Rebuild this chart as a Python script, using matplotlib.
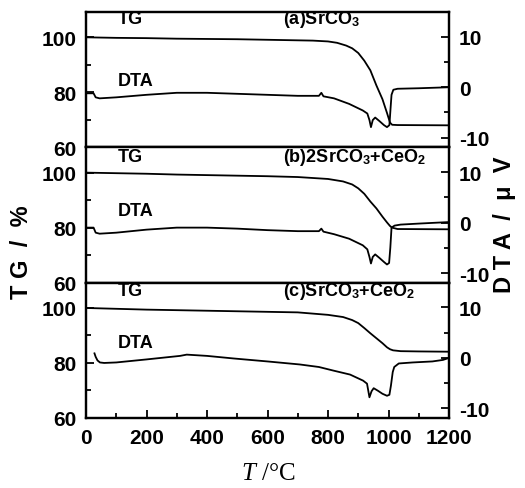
import numpy as np
import matplotlib
matplotlib.use('Agg')
import matplotlib.pyplot as plt
from matplotlib.ticker import MultipleLocator

plt.rcParams['font.family'] = ['Liberation Sans', 'DejaVu Sans']
plt.rcParams['axes.unicode_minus'] = False
plt.rcParams['mathtext.fontset'] = 'custom'
plt.rcParams['mathtext.rm'] = 'Liberation Sans'
plt.rcParams['mathtext.bf'] = 'Liberation Sans:bold'
plt.rcParams['mathtext.it'] = 'Liberation Serif:italic'

# (a) SrCO3
t_tg_a = [0, 100, 200, 300, 400, 500, 600, 700, 750, 800, 830, 860, 880, 900, 920, 940,
          960, 980, 995, 1005, 1012, 1030, 1200]
tg_a = [100, 99.8, 99.7, 99.5, 99.4, 99.3, 99.1, 98.9, 98.8, 98.5, 98.0, 97.0, 96.0, 94.3,
        91.5, 88.0, 82.5, 77.5, 72.5, 69.0, 68.2, 68.1, 68.0]
t_dta_a = [0, 25, 32, 45, 100, 200, 300, 400, 500, 600, 700, 770, 778, 785, 820, 870, 915,
           930, 937, 942, 948, 956, 970, 985, 995, 1003, 1007, 1010, 1016, 1030, 1100, 1200]
dta_a = [-1.2, -1.2, -2.0, -2.2, -2.0, -1.5, -1.1, -1.1, -1.3, -1.5, -1.7, -1.7, -1.1, -1.8,
         -2.2, -3.3, -4.6, -5.2, -6.5, -7.9, -6.5, -6.0, -6.7, -7.5, -7.9, -7.5, -4.0, -1.5,
         -0.5, -0.3, -0.2, 0.0]

# (b) 2SrCO3+CeO2
t_tg_b = [0, 100, 200, 300, 400, 500, 600, 700, 800, 850, 880, 900, 920, 940, 960, 980, 995,
          1005, 1012, 1030, 1200]
tg_b = [100, 99.8, 99.6, 99.3, 99.1, 98.9, 98.7, 98.4, 97.7, 96.8, 95.7, 94.3, 92.3, 89.5,
        87.0, 84.0, 81.9, 80.6, 80.0, 79.5, 79.4]
t_dta_b = [0, 25, 32, 45, 100, 200, 300, 400, 500, 600, 700, 770, 778, 785, 820, 870, 915,
           930, 937, 942, 948, 956, 970, 985, 995, 1002, 1006, 1010, 1020, 1040, 1100, 1200]
dta_b = [-1.0, -1.0, -2.0, -2.2, -2.0, -1.4, -1.0, -1.0, -1.2, -1.5, -1.7, -1.7, -1.2, -1.8,
         -2.3, -3.2, -4.5, -5.3, -6.8, -8.1, -6.8, -6.3, -7.0, -7.8, -8.3, -8.0, -5.0, -1.0,
         -0.6, -0.4, -0.2, 0.1]

# (c) SrCO3+CeO2
t_tg_c = [0, 100, 200, 300, 400, 500, 600, 700, 800, 850, 880, 900, 920, 940, 960, 980, 995,
          1005, 1015, 1040, 1100, 1200]
tg_c = [100, 99.7, 99.4, 99.2, 99.0, 98.8, 98.6, 98.4, 97.5, 96.7, 95.6, 94.5, 92.7, 90.8,
        89.0, 87.2, 85.7, 85.0, 84.6, 84.3, 84.2, 84.1]
t_dta_c = [28, 32, 38, 46, 60, 100, 200, 311, 333, 400, 486, 600, 707, 770, 817, 873, 916,
           929, 937, 944, 951, 965, 980, 995, 1003, 1008, 1014, 1019, 1034, 1080, 1145, 1180,
           1200]
dta_c = [0.9, 0.2, -0.5, -0.9, -1.0, -0.9, -0.3, 0.4, 0.65, 0.4, -0.1, -0.7, -1.3, -1.8,
         -2.5, -3.3, -4.5, -5.1, -7.8, -6.6, -6.0, -6.5, -7.1, -7.5, -7.3, -5.5, -2.8, -1.8,
         -1.1, -0.9, -0.7, -0.4, 0.0]

panels = [
    (t_tg_a, tg_a, t_dta_a, dta_a, r'(a)SrCO$_\mathbf{3}$', 0.955, 0.497),
    (t_tg_b, tg_b, t_dta_b, dta_b, r'(b)2SrCO$_\mathbf{3}$+CeO$_\mathbf{2}$', 0.93, 0.53),
    (t_tg_c, tg_c, t_dta_c, dta_c, r'(c)SrCO$_\mathbf{3}$+CeO$_\mathbf{2}$', 0.94, 0.56),
]

fig = plt.figure(figsize=(5.25, 4.89), dpi=100)
left, width = 86 / 525, 363 / 525
bottom = 70 / 489
h = (476 - 70) / 489 / 3

for i, (tt, tg, td, dta, name, ytg, ydta) in enumerate(panels):
    ax = fig.add_axes([left, bottom + (2 - i) * h, width, h])
    ax2 = ax.twinx()
    ax.plot(tt, tg, color='black', lw=1.3)
    ax2.plot(td, dta, color='black', lw=1.3)
    ax.set_xlim(0, 1200)
    ax.set_ylim(60, 109.2)
    ax2.set_ylim(-11.9, 14.9)
    ax.yaxis.set_major_locator(MultipleLocator(20))
    ax.yaxis.set_minor_locator(MultipleLocator(10))
    ax2.yaxis.set_major_locator(MultipleLocator(10))
    ax2.yaxis.set_minor_locator(MultipleLocator(5))
    ax.xaxis.set_major_locator(MultipleLocator(200))
    ax.xaxis.set_minor_locator(MultipleLocator(100))
    for a in (ax, ax2):
        for s in a.spines.values():
            s.set_linewidth(1.6)
        a.tick_params(which='both', direction='in', width=1.3)
        a.tick_params(which='major', length=6, labelsize=15, pad=7)
        a.tick_params(which='minor', length=3.5)
        for lab in a.get_yticklabels():
            lab.set_fontweight('bold')
    ax.tick_params(axis='x', which='both', top=False)
    if i < 2:
        ax.tick_params(axis='x', which='both', bottom=False, labelbottom=False)
    else:
        for lab in ax.get_xticklabels():
            lab.set_fontweight('bold')
    ax.text(0.088, ytg, 'TG', transform=ax.transAxes, fontsize=13, fontweight='bold',
            va='center')
    ax.text(0.088, ydta, 'DTA', transform=ax.transAxes, fontsize=13, fontweight='bold',
            va='center')
    ax.text(0.543, ytg, name, transform=ax.transAxes, fontsize=13, fontweight='bold',
            va='center')

fig.text(22 / 525, 1 - 252 / 489, 'T G  /  %', rotation=90, ha='center', va='center',
         fontsize=17, fontweight='bold')
fig.text(505 / 525, 1 - 225 / 489, 'D T A  /  μ  V', rotation=90, ha='center', va='center',
         fontsize=17, fontweight='bold')
fig.text(268 / 525, 1 - 474 / 489, r'$\mathit{T}$ /°C', ha='center', va='center',
         fontsize=18, family='Liberation Serif')

fig.savefig('out.png', dpi=100)
